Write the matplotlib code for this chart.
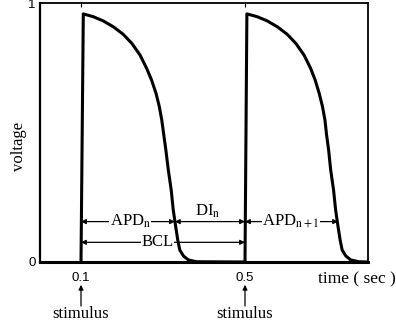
import matplotlib
matplotlib.use('Agg')
import matplotlib.pyplot as plt

plt.rcParams['font.family'] = ['Liberation Serif', 'DejaVu Serif']
plt.rcParams['mathtext.fontset'] = 'stix'

# first action potential
t1 = [0.100, 0.1056, 0.130, 0.154, 0.179, 0.203, 0.224, 0.244, 0.260, 0.272,
      0.283, 0.291, 0.297, 0.302, 0.307, 0.313, 0.320, 0.325, 0.331, 0.336,
      0.341, 0.350, 0.362, 0.382, 0.500]
v1 = [0.000, 0.958, 0.947, 0.931, 0.908, 0.879, 0.844, 0.799, 0.748, 0.703,
      0.651, 0.600, 0.548, 0.490, 0.432, 0.355, 0.278, 0.201, 0.136, 0.085,
      0.046, 0.023, 0.008, 0.001, 0.000]

# second action potential
t2 = [0.500, 0.5046, 0.530, 0.554, 0.579, 0.603, 0.624, 0.644, 0.660, 0.671,
      0.681, 0.689, 0.695, 0.699, 0.704, 0.709, 0.716, 0.721, 0.727, 0.732,
      0.737, 0.746, 0.758, 0.778, 0.800]
v2 = [0.000, 0.958, 0.947, 0.931, 0.908, 0.879, 0.844, 0.799, 0.748, 0.703,
      0.651, 0.600, 0.548, 0.490, 0.432, 0.355, 0.278, 0.201, 0.136, 0.085,
      0.046, 0.023, 0.008, 0.001, 0.000]

stimuli = [0.1, 0.5]
apd_end = [0.329, 0.727]

fig = plt.figure(figsize=(3.96, 3.28), dpi=100)
ax = fig.add_axes([40/396, 1 - 262/328, 328/396, 259/328])

ax.plot(t1, v1, color='k', lw=2.2, solid_joinstyle='round')
ax.plot(t2, v2, color='k', lw=2.2, solid_joinstyle='round')

ax.set_xlim(0, 0.8)
ax.set_ylim(0, 1)
for s in ax.spines.values():
    s.set_linewidth(1.3)
ax.spines['bottom'].set_linewidth(2.2)
ax.spines['left'].set_linewidth(1.6)

ax.set_xticks(stimuli)
ax.set_xticklabels(['0.1', '0.5'])
ax.set_yticks([0, 1])
ax.set_yticklabels(['0', '1'])
ax.tick_params(axis='x', direction='in', top=True, length=3, width=0.8, pad=7)
ax.tick_params(axis='y', direction='in', length=0, pad=3)
for lab in ax.get_xticklabels() + ax.get_yticklabels():
    lab.set_family(['Liberation Sans Narrow', 'Liberation Sans', 'DejaVu Sans'])
    lab.set_fontsize(9.5)

arrow = dict(arrowstyle='<|-|>', color='k', lw=0.9, mutation_scale=7,
             shrinkA=0, shrinkB=0)
box = dict(facecolor='white', edgecolor='none', pad=0.5)
y_apd, y_bcl = 0.156, 0.076
fs = 12

# APD_n
ax.annotate('', xy=(stimuli[0], y_apd), xytext=(apd_end[0], y_apd), arrowprops=arrow)
ax.text(0.22, y_apd, 'APD$_{\\rm n}$', ha='center', va='center', fontsize=fs, bbox=box)
# DI_n
ax.annotate('', xy=(apd_end[0], y_apd), xytext=(stimuli[1], y_apd), arrowprops=arrow)
ax.text(0.41, y_apd + 0.04, 'DI$_{\\rm n}$', ha='center', va='center', fontsize=fs)
# APD_n+1
ax.annotate('', xy=(stimuli[1], y_apd), xytext=(apd_end[1], y_apd), arrowprops=arrow)
ax.text(0.612, y_apd, 'APD$_{\\rm n+1}$', ha='center', va='center', fontsize=fs, bbox=box)
# BCL
ax.annotate('', xy=(stimuli[0], y_bcl), xytext=(stimuli[1], y_bcl), arrowprops=arrow)
ax.text(0.287, y_bcl, 'BCL', ha='center', va='center', fontsize=fs, bbox=box)

# stimulus markers below the axis
for s in stimuli:
    ax.annotate('', xy=(s, -0.088), xytext=(s, -0.17), annotation_clip=False,
                arrowprops=dict(arrowstyle='-|>', color='k', lw=0.9,
                                mutation_scale=7, shrinkA=0, shrinkB=0))
    ax.text(s, -0.2, 'stimulus', ha='center', va='center', fontsize=fs,
            clip_on=False)

ax.text(0.773, -0.066, 'time ( sec )', ha='center', va='center', fontsize=12.5,
        clip_on=False)
ax.text(-0.063, 0.448, 'voltage', transform=ax.transAxes, rotation=90,
        ha='center', va='center', fontsize=fs)

fig.savefig('out.png', dpi=100)
